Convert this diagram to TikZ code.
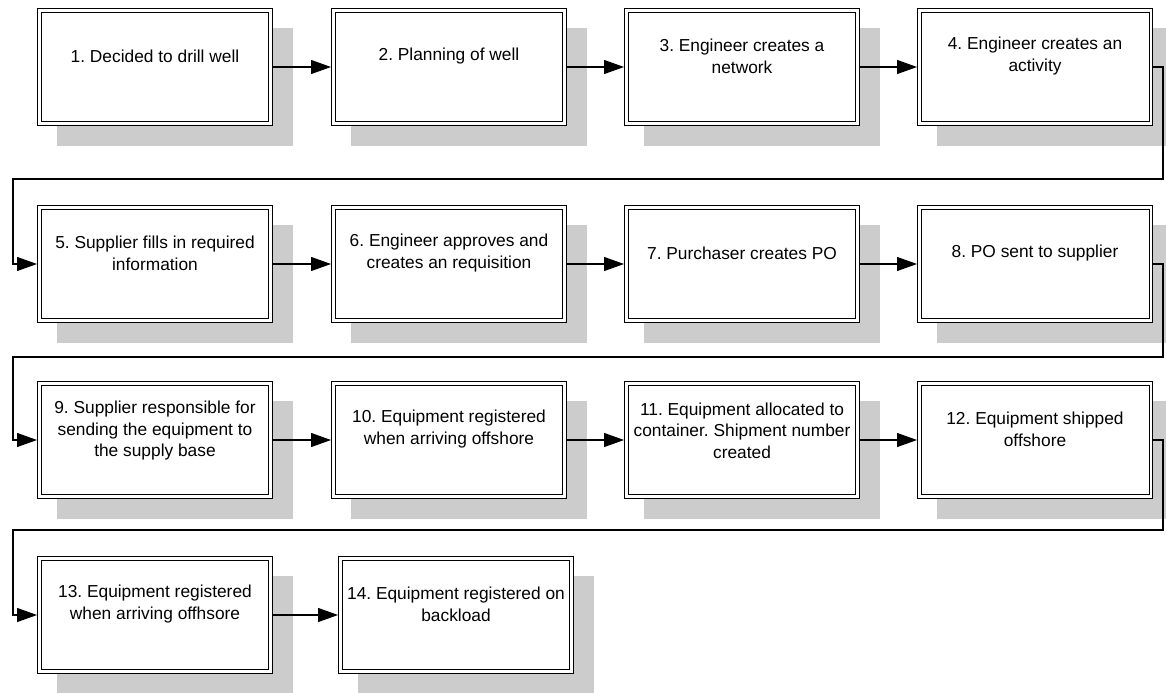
\documentclass[tikz,border=0pt]{standalone}
\usepackage{fontspec}
\setmainfont{Liberation Sans}
\usetikzlibrary{arrows.meta,backgrounds}
\definecolor{shadowgray}{RGB}{204,204,204}
\frenchspacing
\begin{document}
\begin{tikzpicture}[x=0.75pt,y=-0.75pt,
  stepbox/.style={draw=black, line width=0.75pt, double=white,
    double distance=1.875pt, fill=white, minimum width=173.6pt,
    minimum height=85.1pt, outer sep=1.6875pt, inner sep=0pt},
  steptext/.style={font=\fontsize{13}{16.25}\selectfont, align=center,
    inner sep=0pt},
  flow/.style={line width=0.9pt, -{Triangle[length=15pt,width=10.5pt]}},
  boxshadow/.style={fill=shadowgray}]
\useasboundingbox (0,0) rectangle (1166,692);

% process steps
\node[stepbox] (b1)  at (155,67)  {};
\node[stepbox] (b2)  at (449,67)  {};
\node[stepbox] (b3)  at (742,67)  {};
\node[stepbox] (b4)  at (1035,67) {};
\node[stepbox] (b5)  at (155,264) {};
\node[stepbox] (b6)  at (449,264) {};
\node[stepbox] (b7)  at (742,264) {};
\node[stepbox] (b8)  at (1035,264) {};
\node[stepbox] (b9)  at (155,440) {};
\node[stepbox] (b10) at (449,440) {};
\node[stepbox] (b11) at (742,440) {};
\node[stepbox] (b12) at (1035,440) {};
\node[stepbox] (b13) at (155,615) {};
\node[stepbox] (b14) at (456,615) {};

% labels, set in the upper part of each box
\node[steptext] (t1)  at ([yshift=8.25pt]b1.center)  {1. Decided to drill well};
\node[steptext] (t2)  at ([yshift=8.25pt]b2.center)  {2. Planning of well};
\node[steptext] (t3)  at ([yshift=8.25pt]b3.center)  {3. Engineer creates a\\network};
\node[steptext] (t4)  at ([yshift=8.25pt]b4.center)  {4. Engineer creates an\\activity};
\node[steptext] (t5)  at ([yshift=8.25pt]b5.center)  {5. Supplier fills in required\\information};
\node[steptext] (t6)  at ([yshift=8.25pt]b6.center)  {6. Engineer approves and\\creates an requisition};
\node[steptext] (t7)  at ([yshift=8.25pt]b7.center)  {7. Purchaser creates PO};
\node[steptext] (t8)  at ([yshift=8.25pt]b8.center)  {8. PO sent to supplier};
\node[steptext] (t9)  at ([yshift=7pt]b9.center)  {9. Supplier responsible for\\sending the equipment to\\the supply base};
\node[steptext] (t10) at ([yshift=8.25pt]b10.center) {10. Equipment registered\\when arriving offshore};
\node[steptext] (t11) at ([yshift=7pt]b11.center) {11. Equipment allocated to\\container. Shipment number\\created};
\node[steptext] (t12) at ([yshift=8.25pt]b12.center) {12. Equipment shipped\\offshore};
\node[steptext] (t13) at ([yshift=8.25pt]b13.center) {13. Equipment registered\\when arriving offhsore};
\node[steptext] (t14) at ([yshift=8.25pt]b14.center) {14. Equipment registered on\\backload};

% offset shadows behind the boxes
\begin{scope}[on background layer]
  \foreach \n in {b1,b2,b3,b4,b5,b6,b7,b8,b9,b10,b11,b12,b13,b14}
    \fill[boxshadow] ([shift={(20,20)}]\n.north west) rectangle ([shift={(20,20)}]\n.south east);
\end{scope}

% bends of the row-to-row connectors
\coordinate (r1) at (1163,179);
\coordinate (l1) at (13,179);
\coordinate (r2) at (1163,357);
\coordinate (l2) at (13,357);
\coordinate (r3) at (1163,530);
\coordinate (l3) at (13,530);

% connectors
\draw[flow] (b1) -- (b2);
\draw[flow] (b2) -- (b3);
\draw[flow] (b3) -- (b4);
\draw[flow] (b4.east) -| (r1) -- (l1) |- (b5.west);
\draw[flow] (b5) -- (b6);
\draw[flow] (b6) -- (b7);
\draw[flow] (b7) -- (b8);
\draw[flow] (b8.east) -| (r2) -- (l2) |- (b9.west);
\draw[flow] (b9) -- (b10);
\draw[flow] (b10) -- (b11);
\draw[flow] (b11) -- (b12);
\draw[flow] (b12.east) -| (r3) -- (l3) |- (b13.west);
\draw[flow] (b13) -- (b14);
\end{tikzpicture}
\end{document}
